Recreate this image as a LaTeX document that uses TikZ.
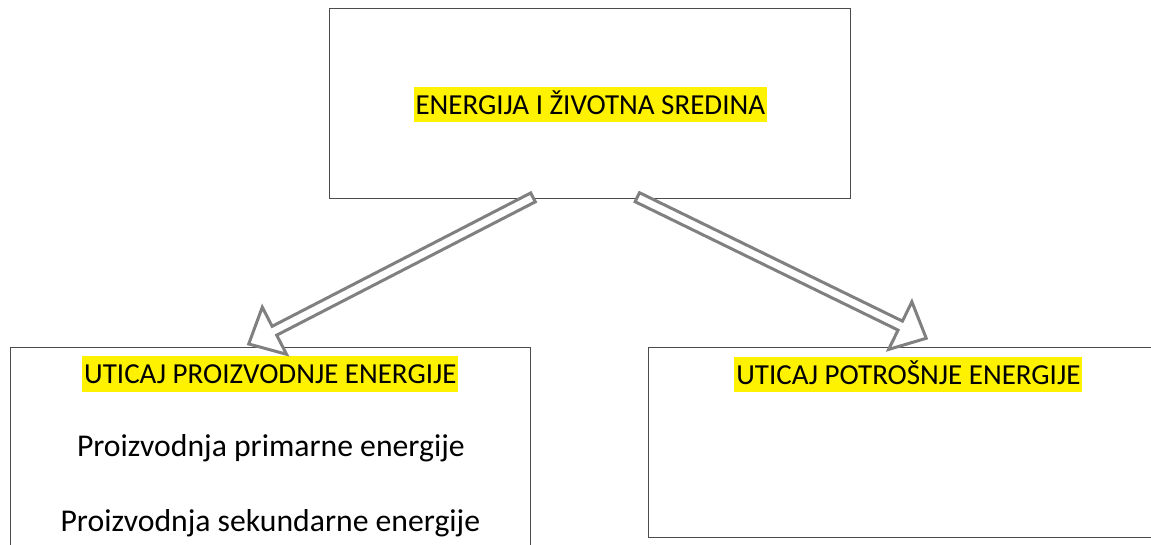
\documentclass[tikz,border=0pt]{standalone}
\usepackage{fontspec}
\setmainfont{Carlito}
\usetikzlibrary{shapes.arrows,calc}
\begin{document}
\begin{tikzpicture}[x=1pt,y=1pt,
    level 1/.style={sibling distance=638pt, level distance=244pt},
    edge from parent/.style={draw=none}]
  \tikzstyle{boxline}=[draw=black!70,line width=1.2pt]
  \tikzstyle{box}=[rectangle,boxline,inner sep=0pt,outer sep=0pt,minimum width=520pt]
  \tikzstyle{hl}=[fill=yellow,inner xsep=2pt,inner ysep=0pt,text height=27.6pt,text depth=8pt,
    font=\fontsize{29}{35}\selectfont]
  \tikzstyle{body}=[inner sep=0pt,font=\fontsize{31.7}{38}\selectfont]
  \tikzstyle{blockarrow}=[single arrow,draw=gray,fill=white,line width=3pt,inner sep=3.5pt,outer sep=0pt,
    single arrow head extend=21.5pt,single arrow tip angle=85,minimum width=0pt]
  \useasboundingbox (0,0) rectangle (1151,544);
  \clip (0,0) rectangle (1151,544);
  \node[box,minimum width=521pt,minimum height=190pt] (env) at (590.35,440.6) {}
  child{
    node[box,anchor=north,minimum height=212pt,xshift=-1pt] (prod) {}
  }
  child{
    node[box,draw=none,anchor=north west,minimum width=560pt,minimum height=190pt,xshift=-261pt] (cons) {}
  }
  ;
  % right box runs off the page
  \draw[boxline] (cons.north east) -- (cons.north west) -- (cons.south west) -- (cons.south east);
  % texts
  \node[hl,anchor=base] (envtxt) at ([yshift=-10.9pt]env.center) {ENERGIJA I ŽIVOTNA SREDINA};
  \node[hl,anchor=base] (prodtxt) at ([yshift=-36.3pt]prod.north) {UTICAJ PROIZVODNJE ENERGIJE};
  \node[hl,anchor=base] (constxt) at ([xshift=260pt,yshift=-37pt]cons.north west) {UTICAJ POTROŠNJE ENERGIJE};
  \node[body,anchor=base] (prim) at ([xshift=0.5pt,yshift=-108.7pt]prod.north) {Proizvodnja primarne energije};
  \node[body,anchor=base] (sec) at ([yshift=-183.7pt]prod.north) {Proizvodnja sekundarne energije};
  % arrows
  \coordinate (t1) at ([xshift=-57.35pt,yshift=1pt]env.south);
  \coordinate (t2) at ([xshift=46.95pt,yshift=1.2pt]env.south);
  \coordinate (h1) at ([xshift=-21.65pt,yshift=3.4pt]prod.north);
  \coordinate (h2) at ([xshift=277.9pt,yshift=9.1pt]cons.north west);
  \path let \p1=($(h1)-(t1)$), \n1={veclen(\x1,\y1)} in
    (t1) -- node[blockarrow,pos=0,anchor=tail,sloped,allow upside down,minimum height=\n1] {} (h1);
  \path let \p1=($(h2)-(t2)$), \n1={veclen(\x1,\y1)} in
    (t2) -- node[blockarrow,pos=0,anchor=tail,sloped,allow upside down,minimum height=\n1] {} (h2);
\end{tikzpicture}
\end{document}
